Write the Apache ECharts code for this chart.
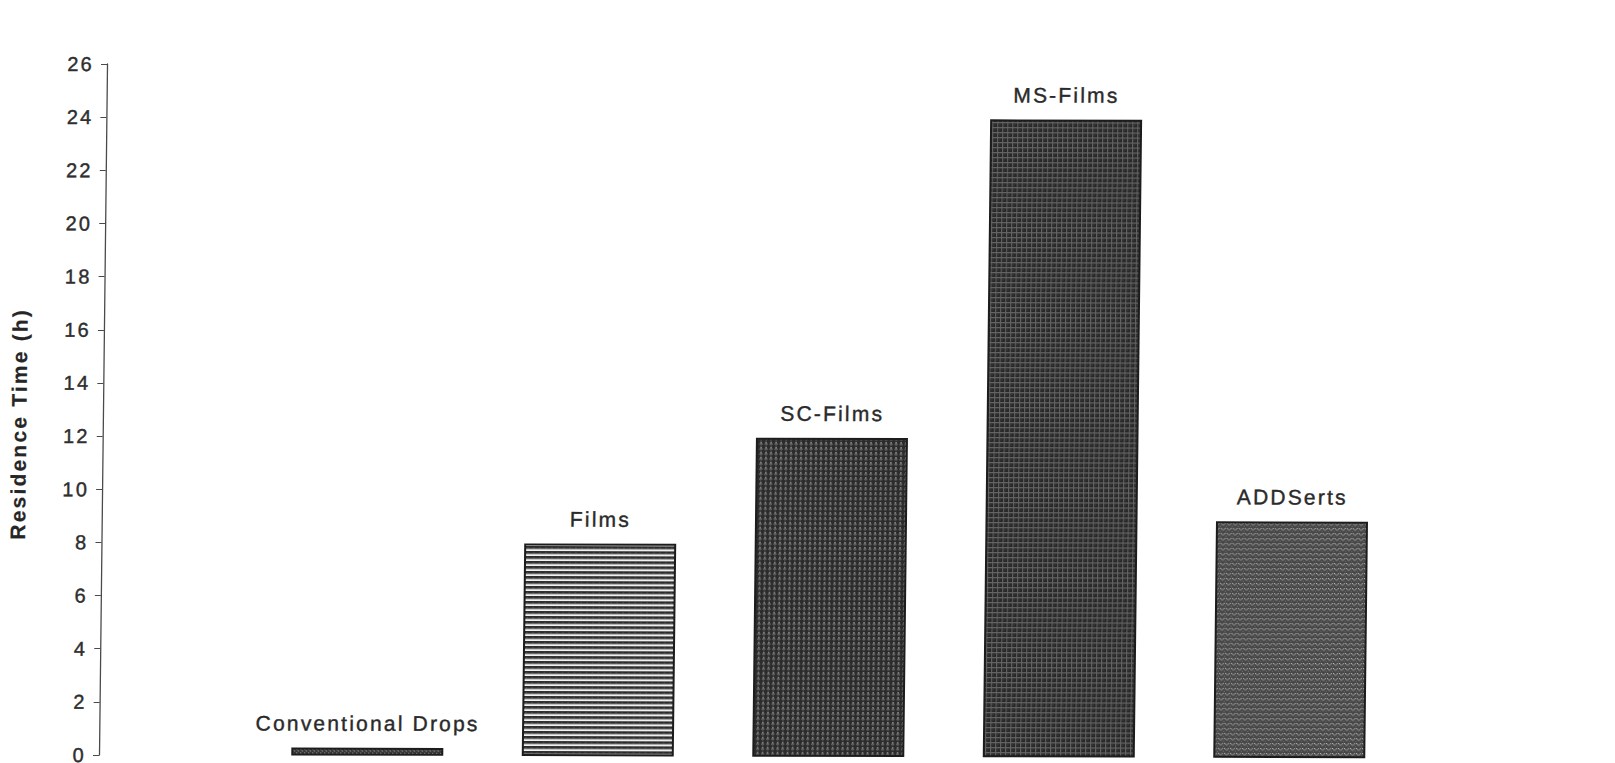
<!DOCTYPE html>
<html>
<head>
<meta charset="utf-8">
<script src="https://cdn.jsdelivr.net/npm/echarts@6/dist/echarts.min.js"></script>
<style>
  html, body { margin: 0; padding: 0; background: #ffffff; overflow: hidden; }
  #chart {
    width: 1615px; height: 763px;
    /* slight skew of the printed figure */
    transform-origin: 99px 755px;
    transform: matrix(1, 0.0025, -0.0116, 1, 0, 0);
  }
  #chart text { letter-spacing: 2.2px; }
</style>
</head>
<body>
<div id="chart"></div>
<script>
// Mean residence time of each ocular formulation (hours)
const categories = ['Conventional Drops', 'Films', 'SC-Films', 'MS-Films', 'ADDSerts'];
const residenceHours = [0.3, 8, 12, 24, 8.9];
const yAxisTitle = 'Residence Time (h)';
const yMin = 0, yMax = 26, yStep = 2;

// Small repeating tiles used as hatch fills for the bars
function makeTile(w, h, bg, marks) {
  const c = document.createElement('canvas');
  c.width = w; c.height = h;
  const ctx = c.getContext('2d');
  ctx.fillStyle = bg;
  ctx.fillRect(0, 0, w, h);
  marks.forEach(([x, y, mw, mh, col]) => { ctx.fillStyle = col; ctx.fillRect(x, y, mw, mh); });
  return { image: c, repeat: 'repeat', imageWidth: w, imageHeight: h };
}

const fills = [
  // diagonal flecks
  makeTile(4, 4, '#363636', [[0, 0, 1, 1, '#a8a8a8'], [1, 1, 1, 1, '#8a8a8a'], [2, 2, 1, 1, '#a8a8a8']]),
  // horizontal rules
  makeTile(6, 5, '#e6e6e6', [[0, 0, 6, 2, '#2a2a2a'], [0, 2, 6, 1, '#5e5e5e'], [3, 1, 1, 1, '#555555'], [0, 4, 6, 1, '#f4f4f4']]),
  // dotted dark
  makeTile(5, 5, '#2c2c2c', [[2, 0, 1, 2, '#b4b4b4'], [1, 2, 1, 1, '#969696'], [3, 2, 1, 1, '#969696'], [2, 3, 1, 1, '#6a6a6a']]),
  // dark grid
  makeTile(5, 5, '#282828', [[0, 0, 5, 1, '#707070'], [0, 0, 1, 5, '#646464'], [2, 2, 1, 1, '#4a4a4a']]),
  // chevrons
  makeTile(6, 5, '#474747', [[0, 0, 1, 1, '#b8b8b8'], [4, 0, 1, 1, '#b8b8b8'], [1, 1, 1, 1, '#a8a8a8'], [3, 1, 1, 1, '#a8a8a8'], [2, 2, 1, 1, '#9a9a9a'], [5, 3, 1, 1, '#787878']])
];

const chart = echarts.init(document.getElementById('chart'), null, { renderer: 'svg' });

chart.setOption({
  backgroundColor: '#ffffff',
  animation: false,
  textStyle: { fontFamily: 'Liberation Sans, Arial, sans-serif' },
  grid: { left: 252, right: 210.5, top: 64, bottom: 8, outerBoundsMode: 'none' },
  xAxis: {
    type: 'category',
    data: categories,
    axisLine: { show: false },
    axisTick: { show: false },
    axisLabel: { show: false },
    splitLine: { show: false }
  },
  yAxis: {
    type: 'value',
    min: yMin, max: yMax, interval: yStep,
    offset: 153,
    axisLine: { show: true, lineStyle: { color: '#4a4a4a', width: 1.3 } },
    axisTick: { show: true, inside: false, length: 6, lineStyle: { color: '#4a4a4a', width: 1.2 } },
    axisLabel: {
      margin: 13, fontSize: 20, color: '#2e2e2e',
      textBorderColor: '#2e2e2e', textBorderWidth: 0.4
    },
    splitLine: { show: false }
  },
  graphic: [{
    type: 'text',
    x: 15, y: 424,
    rotation: Math.PI / 2,
    style: {
      text: yAxisTitle,
      font: 'bold 21px "Liberation Sans", Arial, sans-serif',
      fill: '#262626',
      stroke: '#262626',
      lineWidth: 0.2,
      textAlign: 'center',
      textVerticalAlign: 'middle'
    }
  }],
  series: [{
    type: 'bar',
    barWidth: 152,
    data: residenceHours.map((v, i) => ({
      value: v,
      itemStyle: { color: fills[i], borderColor: '#1c1c1c', borderWidth: 2 }
    })),
    label: {
      show: true,
      position: 'top',
      distance: 14,
      fontSize: 21,
      color: '#2a2a2a',
      textBorderColor: '#2a2a2a',
      textBorderWidth: 0.4,
      formatter: (p) => p.name
    }
  }]
});
</script>
</body>
</html>
